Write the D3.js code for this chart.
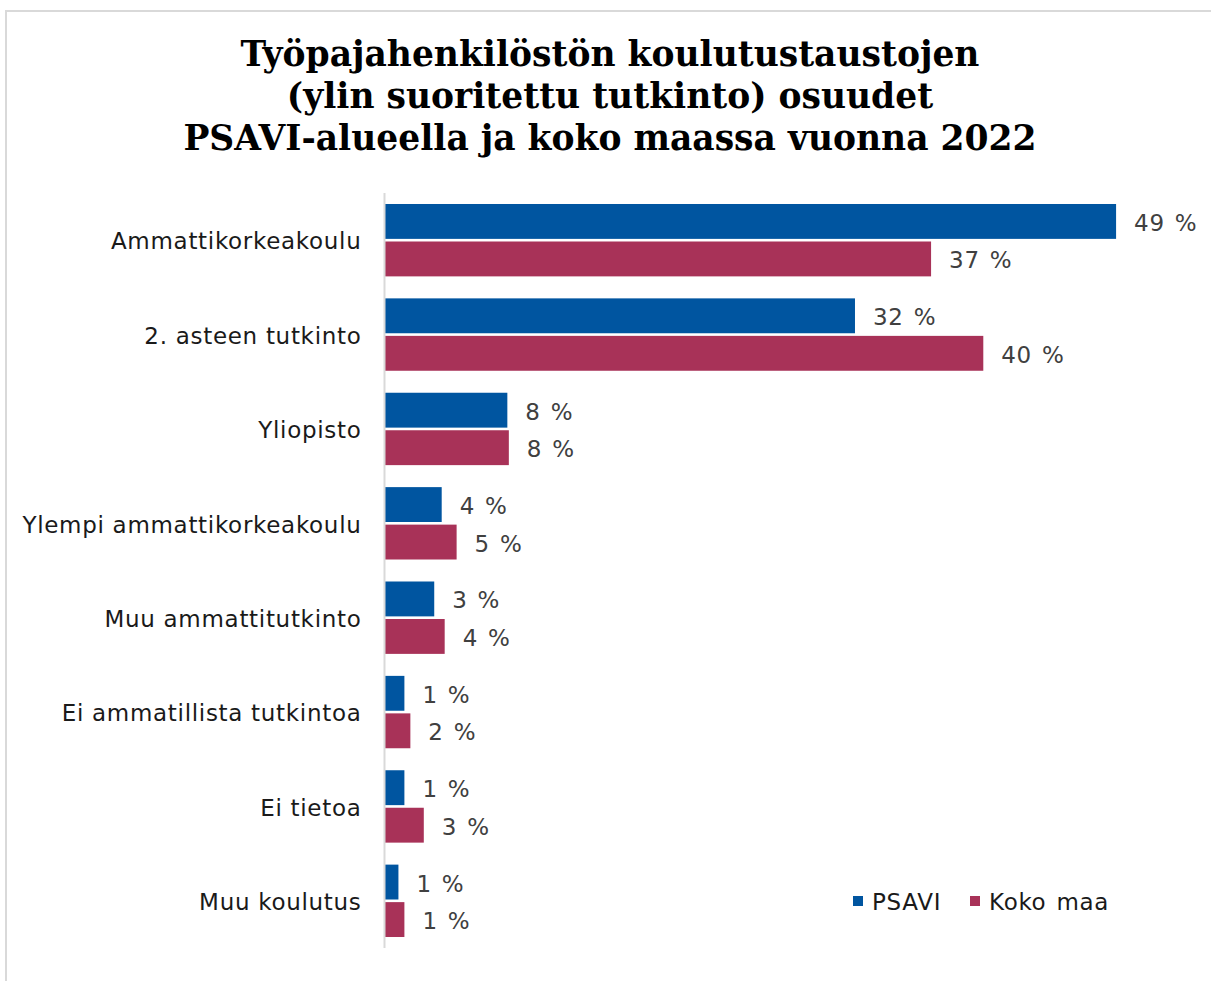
<!DOCTYPE html>
<html>
<head>
<meta charset="utf-8">
<script src="https://cdn.jsdelivr.net/npm/d3@7"></script>
<style>
  body { margin: 0; background: #fff; }
  svg { display: block; }
</style>
</head>
<body>
<div id="chart"></div>
<script>
// Data
var categories = ["Ammattikorkeakoulu", "2. asteen tutkinto", "Yliopisto",
	"Ylempi ammattikorkeakoulu", "Muu ammattitutkinto", "Ei ammatillista tutkintoa",
	"Ei tietoa", "Muu koulutus"];
var seriesNames = ["PSAVI", "Koko maa"];
var psaviValues = [49.0, 31.5, 8.2, 3.8, 3.3, 1.3, 1.3, 0.9];
var kokoMaaValues = [36.6, 40.1, 8.3, 4.8, 4.0, 1.7, 2.6, 1.3];
var titleLines = ["Työpajahenkilöstön koulutustaustojen",
	"(ylin suoritettu tutkinto) osuudet",
	"PSAVI-alueella ja koko maassa vuonna 2022"];

var width = 1211, height = 981;
var colors = {"PSAVI": "#0055a0", "Koko maa": "#a83258"};
var labelFont = "Verdana, 'DejaVu Sans', sans-serif";

var svg = d3.select("#chart")
	.append("svg")
		.attr("width", width)
		.attr("height", height);

// chart border
svg.append("rect")
	.attr("x", 6)
	.attr("y", 11)
	.attr("width", width + 10)
	.attr("height", height + 10)
	.attr("fill", "#fff")
	.attr("stroke", "#d9d9d9")
	.attr("stroke-width", 2);

// Title
svg.append("g")
	.selectAll("text")
	.data(titleLines)
	.enter().append("text")
		.attr("x", 610)
		.attr("y", function(d, i) { return 66 + i * 42; })
		.attr("text-anchor", "middle")
		.style("font-family", "Georgia, 'DejaVu Serif', serif")
		.style("font-weight", "bold")
		.style("font-size", "34.5px")
		.style("fill", "#000")
		.text(function(d) { return d; });

// Scales
var y = d3.scaleBand()
	.domain(categories)
	.range([193, 948])
	.paddingInner(0.233)
	.paddingOuter(0.1165);

var yInner = d3.scaleBand()
	.domain(seriesNames)
	.range([0, y.bandwidth()])
	.paddingInner(0.07);

var x = d3.scaleLinear()
	.domain([0, 50])
	.range([385, 1131]);

// Rows of data
var rows = categories.map(function(c, i) {
	return {
		category: c,
		values: [
			{series: "PSAVI", value: psaviValues[i]},
			{series: "Koko maa", value: kokoMaaValues[i]}
		]
	};
});

var groups = svg.append("g")
	.selectAll("g")
	.data(rows)
	.enter().append("g")
		.attr("transform", function(d) { return "translate(0," + y(d.category) + ")"; });

groups.selectAll("rect")
	.data(function(d) { return d.values; })
	.enter().append("rect")
		.attr("x", x(0))
		.attr("y", function(d) { return yInner(d.series); })
		.attr("width", function(d) { return x(d.value) - x(0); })
		.attr("height", yInner.bandwidth())
		.attr("fill", function(d) { return colors[d.series]; });

groups.selectAll("text.value")
	.data(function(d) { return d.values; })
	.enter().append("text")
		.attr("class", "value")
		.attr("x", function(d) { return x(d.value) + 18; })
		.attr("y", function(d) { return yInner(d.series) + yInner.bandwidth() / 2 + 9.5; })
		.style("font-family", labelFont)
		.style("font-size", "23px")
		.style("letter-spacing", "0.7px")
		.style("word-spacing", "2px")
		.style("fill", "#404040")
		.text(function(d) { return Math.round(d.value) + " %"; });

// Category axis
var yAxis = svg.append("g")
	.attr("transform", "translate(" + (x(0) - 0.5) + ",0)")
	.call(d3.axisLeft(y).tickSize(0).tickPadding(23));

yAxis.select(".domain")
	.attr("d", "M0,193V948")
	.attr("stroke", "#d9d9d9")
	.attr("stroke-width", 2);

yAxis.selectAll("text")
	.attr("dy", "0.4em")
	.style("font-family", labelFont)
	.style("font-size", "23px")
	.style("letter-spacing", "0.7px")
	.style("fill", "#1a1a1a");

// Legend
var legendX = [853, 970];
var legend = svg.append("g")
	.selectAll("g")
	.data(seriesNames)
	.enter().append("g")
		.attr("transform", function(d, i) { return "translate(" + legendX[i] + ",896)"; });

legend.append("rect")
	.attr("width", 10)
	.attr("height", 10)
	.attr("fill", function(d) { return colors[d]; });

legend.append("text")
	.attr("x", 19)
	.attr("y", 14)
	.style("font-family", labelFont)
	.style("font-size", "23px")
	.style("letter-spacing", "0.7px")
	.style("word-spacing", "2px")
	.style("fill", "#1a1a1a")
	.text(function(d) { return d; });
</script>
</body>
</html>
